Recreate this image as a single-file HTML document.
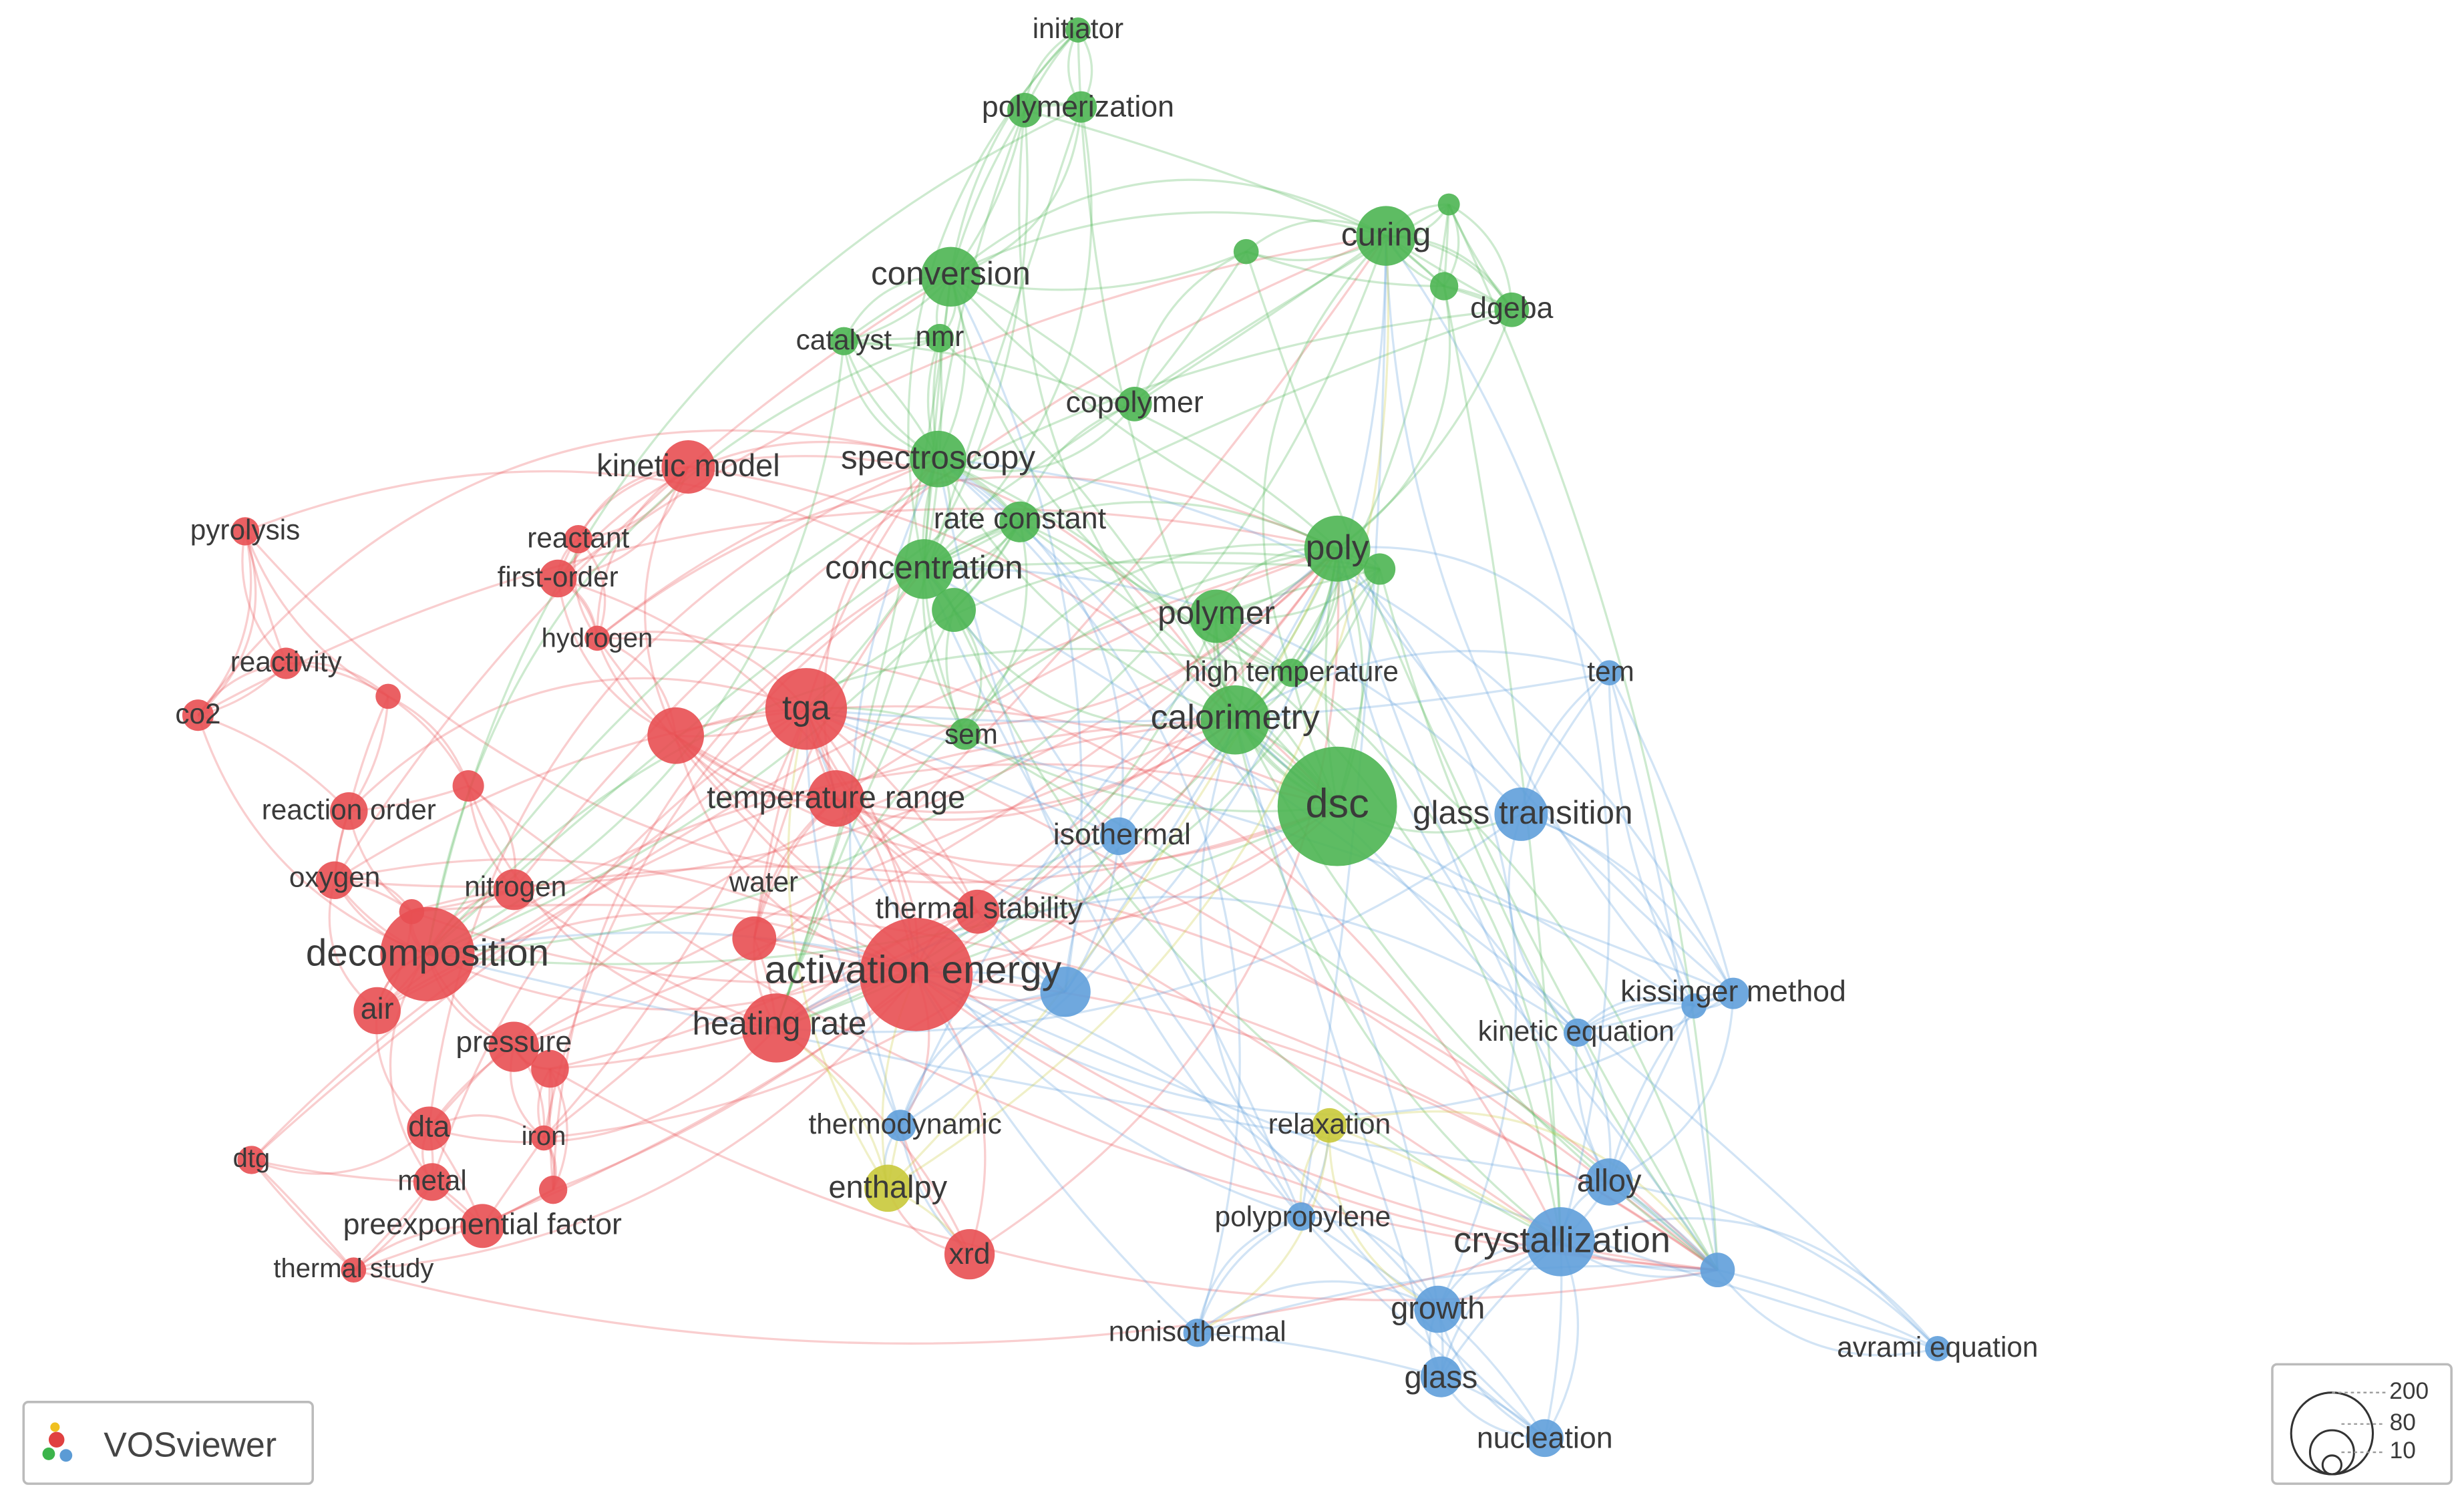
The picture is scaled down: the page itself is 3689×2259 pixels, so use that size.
<!DOCTYPE html>
<html><head><meta charset="utf-8"><style>
html,body{margin:0;padding:0;background:#fff;}
svg{display:block;}
text{font-family:"Liberation Sans",sans-serif;fill:#3a3a3a;text-anchor:middle;dominant-baseline:central;}
</style></head><body>
<svg id="s" width="3689" height="2259" viewBox="0 0 1568 960" xmlns="http://www.w3.org/2000/svg">
<g id="edges"></g>
<g id="nodes"></g>
<g id="labels">
<text x="272" y="606" font-size="24">decomposition</text>
<text x="581" y="617" font-size="25">activation energy</text>
<text x="513" y="450" font-size="22">tga</text>
<text x="496" y="651" font-size="21">heating rate</text>
<text x="532" y="507" font-size="20">temperature range</text>
<text x="438" y="296" font-size="20">kinetic model</text>
<text x="623" y="578" font-size="19">thermal stability</text>
<text x="486" y="561" font-size="18">water</text>
<text x="327" y="663" font-size="19">pressure</text>
<text x="240" y="642" font-size="19">air</text>
<text x="273" y="717" font-size="19">dta</text>
<text x="275" y="751" font-size="18">metal</text>
<text x="307" y="779" font-size="19">preexponential factor</text>
<text x="617" y="798" font-size="19">xrd</text>
<text x="328" y="564" font-size="18">nitrogen</text>
<text x="213" y="558" font-size="18">oxygen</text>
<text x="222" y="515" font-size="18">reaction order</text>
<text x="355" y="367" font-size="18">first-order</text>
<text x="368" y="342" font-size="18">reactant</text>
<text x="380" y="406" font-size="17">hydrogen</text>
<text x="156" y="337" font-size="18">pyrolysis</text>
<text x="182" y="421" font-size="18">reactivity</text>
<text x="126" y="454" font-size="18">co2</text>
<text x="160" y="737" font-size="17">dtg</text>
<text x="346" y="723" font-size="17">iron</text>
<text x="225" y="807" font-size="17">thermal study</text>
<text x="851" y="511" font-size="26">dsc</text>
<text x="786" y="456" font-size="22">calorimetry</text>
<text x="774" y="390" font-size="21">polymer</text>
<text x="851" y="348" font-size="22">poly</text>
<text x="822" y="427" font-size="18">high temperature</text>
<text x="597" y="291" font-size="21">spectroscopy</text>
<text x="588" y="361" font-size="21">concentration</text>
<text x="649" y="330" font-size="19">rate constant</text>
<text x="605" y="174" font-size="21">conversion</text>
<text x="537" y="216" font-size="18">catalyst</text>
<text x="598" y="214" font-size="18">nmr</text>
<text x="722" y="256" font-size="19">copolymer</text>
<text x="882" y="149" font-size="21">curing</text>
<text x="962" y="196" font-size="19">dgeba</text>
<text x="686" y="68" font-size="19">polymerization</text>
<text x="686" y="18" font-size="18">initiator</text>
<text x="618" y="467" font-size="18">sem</text>
<text x="969" y="517" font-size="21">glass transition</text>
<text x="714" y="531" font-size="19">isothermal</text>
<text x="1103" y="631" font-size="19">kissinger method</text>
<text x="1003" y="656" font-size="18">kinetic equation</text>
<text x="1025" y="427" font-size="18">tem</text>
<text x="1024" y="751" font-size="20">alloy</text>
<text x="994" y="789" font-size="23">crystallization</text>
<text x="829" y="774" font-size="18">polypropylene</text>
<text x="915" y="832" font-size="20">growth</text>
<text x="917" y="876" font-size="20">glass</text>
<text x="983" y="915" font-size="19">nucleation</text>
<text x="762" y="847" font-size="18">nonisothermal</text>
<text x="1233" y="857" font-size="18">avrami equation</text>
<text x="576" y="715" font-size="18">thermodynamic</text>
<text x="565" y="755" font-size="20">enthalpy</text>
<text x="846" y="715" font-size="18">relaxation</text>
</g>
<rect x="15" y="892" width="184" height="52" rx="3" fill="#fff" stroke="#bbb" stroke-width="1.5"/>
<circle cx="36" cy="916" r="5" fill="#e04040"/><circle cx="31" cy="925" r="4" fill="#3cb44b"/><circle cx="42" cy="926" r="4" fill="#5b9bd5"/><circle cx="35" cy="908" r="3" fill="#f0c020"/>
<text x="121" y="919" font-size="22" style="fill:#444">VOSviewer</text>
<rect x="1446" y="868" width="114" height="76" rx="3" fill="#fff" stroke="#bbb" stroke-width="1.5"/>
<circle cx="1484" cy="912" r="26" fill="none" stroke="#333" stroke-width="1.3"/>
<circle cx="1484" cy="924" r="14" fill="none" stroke="#333" stroke-width="1.3"/>
<circle cx="1484" cy="932" r="6" fill="none" stroke="#333" stroke-width="1.3"/>
<line x1="1484" y1="886" x2="1518" y2="886" stroke="#999" stroke-dasharray="2,2"/>
<line x1="1490" y1="906" x2="1518" y2="906" stroke="#999" stroke-dasharray="2,2"/>
<line x1="1490" y1="924" x2="1518" y2="924" stroke="#999" stroke-dasharray="2,2"/>
<text x="1533" y="885" font-size="15">200</text>
<text x="1529" y="905" font-size="15">80</text>
<text x="1529" y="923" font-size="15">10</text>
</svg>
<script>
var C={r:"#e84f52",g:"#4cb552",b:"#5f9fda",y:"#c9c93a"};
var N=[
[272,607,30,"r"],[583,620,36,"r"],[513,451,26,"r"],[494,654,22,"r"],[532,508,18,"r"],[438,297,17,"r"],[430,468,18,"r"],[622,580,14,"r"],[480,597,14,"r"],[327,666,16,"r"],[350,680,12,"r"],[240,643,15,"r"],[273,718,14,"r"],[275,752,12,"r"],[307,780,14,"r"],[617,798,16,"r"],[327,566,13,"r"],[213,560,12,"r"],[222,516,12,"r"],[298,500,10,"r"],[355,368,12,"r"],[368,343,9,"r"],[380,406,8,"r"],[156,338,9,"r"],[182,422,10,"r"],[126,455,10,"r"],[247,443,8,"r"],[160,738,9,"r"],[346,724,8,"r"],[352,757,9,"r"],[225,808,8,"r"],[262,580,8,"r"],
[851,513,38,"g"],[786,458,22,"g"],[774,392,17,"g"],[851,349,21,"g"],[878,362,10,"g"],[822,428,9,"g"],[597,292,18,"g"],[588,362,19,"g"],[607,388,14,"g"],[649,332,13,"g"],[605,176,19,"g"],[537,217,9,"g"],[598,215,9,"g"],[722,257,11,"g"],[882,150,19,"g"],[922,130,7,"g"],[919,182,9,"g"],[962,197,11,"g"],[793,160,8,"g"],[652,70,11,"g"],[688,68,10,"g"],[686,19,8,"g"],[614,467,10,"g"],
[968,518,17,"b"],[712,532,12,"b"],[678,631,16,"b"],[1103,632,10,"b"],[1004,657,9,"b"],[1078,640,8,"b"],[1024,428,8,"b"],[1024,752,15,"b"],[993,790,22,"b"],[1093,808,11,"b"],[828,774,9,"b"],[915,833,15,"b"],[917,876,13,"b"],[983,915,12,"b"],[762,848,9,"b"],[1233,858,8,"b"],[573,716,10,"b"],
[565,756,15,"y"],[846,716,11,"y"]];
var hubs=[0,1,2,3,32,33,35,38,39,42,46,63,64];
var seed=7;function rnd(){seed=(seed*16807)%2147483647;return seed/2147483647;}
var e="";
function edge(a,b){var p=N[a],q=N[b];var mx=(p[0]+q[0])/2,my=(p[1]+q[1])/2;var dx=q[0]-p[0],dy=q[1]-p[1];var k=(rnd()-0.5)*0.7;
var cx=mx-dy*k,cy=my+dx*k;e+='<path d="M'+p[0]+' '+p[1]+' Q'+cx.toFixed(1)+' '+cy.toFixed(1)+' '+q[0]+' '+q[1]+'" stroke="'+C[p[3]]+'" stroke-opacity="0.28" stroke-width="1.4" fill="none"/>';}
for(var i=0;i<N.length;i++){
 var d=[];for(var j=0;j<N.length;j++){if(j==i)continue;var dd=Math.hypot(N[i][0]-N[j][0],N[i][1]-N[j][1]);if(N[j][3]!=N[i][3])dd*=1.8;d.push([dd,j]);}
 d.sort(function(a,b){return a[0]-b[0];});
 var k=2+Math.round(N[i][2]/10);
 for(var t=0;t<k;t++)edge(i,d[t][1]);
 for(var h=0;h<hubs.length;h++){if(hubs[h]!=i&&rnd()<0.2)edge(i,hubs[h]);}
}
document.getElementById("edges").innerHTML=e;
var n="";for(var i=0;i<N.length;i++){n+='<circle cx="'+N[i][0]+'" cy="'+N[i][1]+'" r="'+N[i][2]+'" fill="'+C[N[i][3]]+'" fill-opacity="0.9"/>';}
document.getElementById("nodes").innerHTML=n;
</script>
</body></html>
